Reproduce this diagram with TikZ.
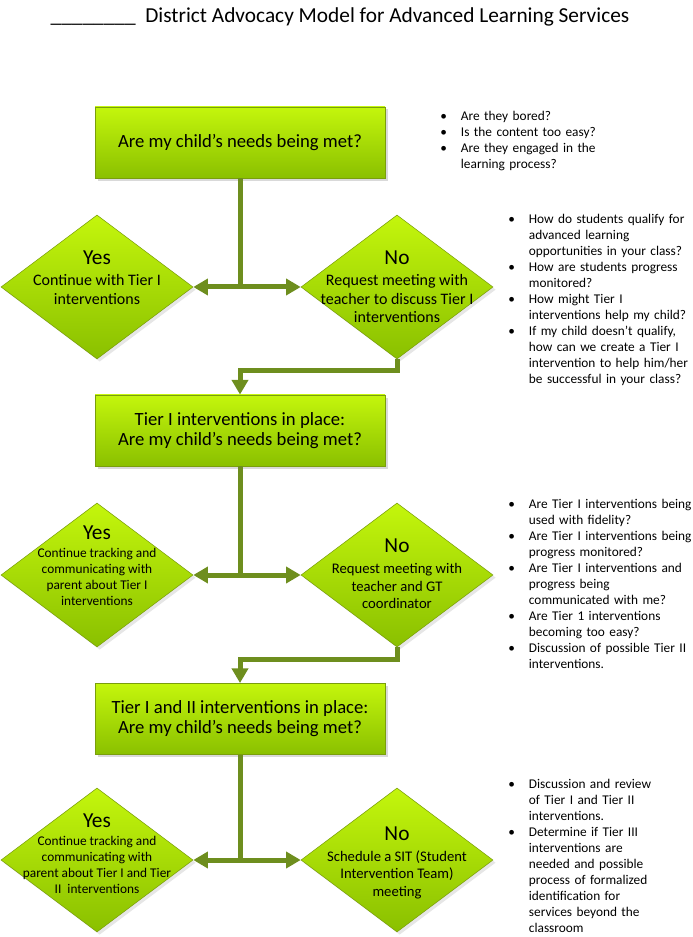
\documentclass[tikz,border=0pt]{standalone}
\usepackage{fontspec}
\setmainfont{Carlito}
\usepackage{xcolor}
\usetikzlibrary{shapes.geometric}
\usetikzlibrary{arrows.meta}
\usetikzlibrary{shadows}
\definecolor{limetop}{RGB}{196,246,12}
\definecolor{limebottom}{RGB}{138,192,0}
\definecolor{limeedge}{RGB}{122,158,12}
\definecolor{stem}{RGB}{110,142,30}
\newcommand{\qitem}[1]{\par\noindent\hangindent=15.5pt\hangafter=1\makebox[15.5pt][l]{\textbullet}\ignorespaces#1\par}

\begin{document}
\begin{tikzpicture}[x=0.75pt,y=-0.75pt,
    askbox/.style={rectangle,draw=limeedge,top color=limetop,bottom color=limebottom,
      minimum width=217.5pt,minimum height=53.5pt,inner sep=0pt,align=center,
      font=\fontsize{14}{15}\selectfont,
      drop shadow={shadow xshift=2pt,shadow yshift=-2pt,opacity=0.3}},
    pick/.style={diamond,draw=limeedge,top color=limetop,bottom color=limebottom,
      minimum width=144pt,minimum height=108pt,inner sep=0pt,
      drop shadow={shadow xshift=2pt,shadow yshift=-2pt,opacity=0.2}},
    picktext/.style={align=center,inner sep=0pt},
    notes/.style={anchor=north west,inner sep=0pt,text width=175pt,font=\fontsize{10}{12}\selectfont},
    link/.style={draw=stem,line width=3.75pt},
    tip/.style={-{Triangle[length=11pt,width=12pt]}},
    fork/.style={{Triangle[length=11pt,width=12pt]}-{Triangle[length=11pt,width=12pt]}}]
  \useasboundingbox (0,0) rectangle (692,937);
  \node[font=\fontsize{16}{18}\selectfont] (title) at (340,17)
    {\_\_\_\_\_\_\_\_~~District Advocacy Model for Advanced Learning Services};

  \node[askbox] (ask1) at (240,142.5) {Are my child’s needs being met?};
  \node[askbox] (ask2) at (240,430.5) {Tier I interventions in place:\\Are my child’s needs being met?};
  \node[askbox] (ask3) at (240,719) {Tier I and II interventions in place:\\Are my child’s needs being met?};

  \node[pick] (yes1) at (97,287) {};
  \node[pick] (no1) at (397,287) {};
  \node[pick] (yes2) at (97,575) {};
  \node[pick] (no2) at (397,575) {};
  \node[pick] (yes3) at (97,860) {};
  \node[pick] (no3) at (397,860) {};

  \node[picktext,font=\fontsize{12}{14.25}\selectfont] (yes1txt) at ([yshift=7pt]yes1.center)
    {{\fontsize{16}{16}\selectfont Yes}\\[1.5pt]Continue with Tier I\\interventions};
  \node[picktext,font=\fontsize{12}{14}\selectfont] (no1txt) at ([yshift=0pt]no1.center)
    {{\fontsize{16}{16}\selectfont No}\\[1.5pt]Request meeting with\\teacher to discuss Tier I\\interventions};
  \node[picktext,font=\fontsize{10}{12}\selectfont] (yes2txt) at ([yshift=6.75pt]yes2.center)
    {{\fontsize{16}{16}\selectfont Yes}\\[1.5pt]Continue tracking and\\communicating with\\parent about Tier I\\interventions};
  \node[picktext,font=\fontsize{11}{13.1}\selectfont] (no2txt) at ([yshift=0.75pt]no2.center)
    {{\fontsize{16}{16}\selectfont No}\\[2.4pt]Request meeting with\\teacher and GT\\coordinator};
  \node[picktext,font=\fontsize{10}{12}\selectfont] (yes3txt) at ([yshift=4.5pt]yes3.center)
    {{\fontsize{16}{16}\selectfont Yes}\\[1.5pt]Continue tracking and\\communicating with\\parent about Tier I and Tier\\II\ \ interventions};
  \node[picktext,font=\fontsize{11}{13.1}\selectfont] (no3txt) at ([yshift=-2.25pt]no3.center)
    {{\fontsize{16}{16}\selectfont No}\\[2.4pt]Schedule a SIT (Student\\Intervention Team)\\meeting};

  \draw[link] (ask1.south) -- (ask1.south |- yes1.east);
  \draw[link,fork] (yes1.east) -- (no1.west);
  \draw[link,tip] (no1.south) -- ++(0,11) -| (ask2.north);
  \draw[link] (ask2.south) -- (ask2.south |- yes2.east);
  \draw[link,fork] (yes2.east) -- (no2.west);
  \draw[link,tip] (no2.south) -- ++(0,12) -| (ask3.north);
  \draw[link] (ask3.south) -- (ask3.south |- yes3.east);
  \draw[link,fork] (yes3.east) -- (no3.west);

  \node[notes] (notes1) at (440,104)
    {\qitem{Are they bored?}\qitem{Is the content too easy?}\qitem{Are they engaged in the\newline learning process?}};
  \node[notes] (notes2) at (508,207)
    {\qitem{How do students qualify for\newline advanced learning\newline opportunities in your class?}
     \qitem{How are students progress\newline monitored?}
     \qitem{How might Tier I\newline interventions help my child?}
     \qitem{If my child doesn’t qualify,\newline how can we create a Tier I\newline intervention to help him/her\newline be successful in your class?}};
  \node[notes] (notes3) at (508,492)
    {\qitem{Are Tier I interventions being\newline used with fidelity?}
     \qitem{Are Tier I interventions being\newline progress monitored?}
     \qitem{Are Tier I interventions and\newline progress being\newline communicated with me?}
     \qitem{Are Tier 1 interventions\newline becoming too easy?}
     \qitem{Discussion of possible Tier II\newline interventions.}};
  \node[notes] (notes4) at (508,772)
    {\qitem{Discussion and review\newline of Tier I and Tier II\newline interventions.}
     \qitem{Determine if Tier III\newline interventions are\newline needed and possible\newline process of formalized\newline identification for\newline services beyond the\newline classroom}};
\end{tikzpicture}
\end{document}
